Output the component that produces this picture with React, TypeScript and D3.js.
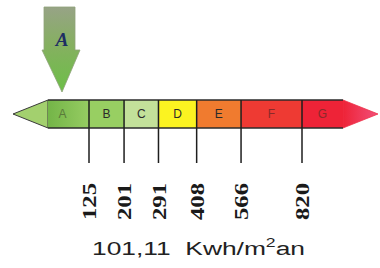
import * as d3 from "d3";

// energy classes and their upper limits (kWh/m²·an)
const classes = ["A", "B", "C", "D", "E", "F", "G"];
const limits = [125, 201, 291, 408, 566, 820];
const classColors = ["#8fc85c", "#98cf62", "#c3e19a", "#fbf321", "#f07b2f", "#ee3a33", "#ee2337"];
const currentClass = "A";
const currentValue = "101,11";

const W = 380;
const H = 268;

export default function App() {
  // boundaries between classes are not equally spaced — a power scale fits the sheet
  const x = d3.scalePow().exponent(0.55).domain([limits[0], limits[limits.length - 1]]).range([89, 302]);

  const barTop = 100;
  const barBot = 128;
  const barMid = (barTop + barBot) / 2;
  const bodyLeft = 48;
  const bodyRight = 343;
  const tipLeft = 13;
  const tipRight = 378;

  const edges = [bodyLeft, ...limits.map((v) => x(v)), bodyRight];
  const segs = classes.map((c, i) => ({ c, x0: edges[i], x1: edges[i + 1], color: classColors[i] }));

  const leftTip = d3.path();
  leftTip.moveTo(bodyLeft, barTop);
  leftTip.lineTo(tipLeft, barMid);
  leftTip.lineTo(bodyLeft, barBot);
  leftTip.closePath();

  const rightTip = d3.path();
  rightTip.moveTo(bodyRight, barTop);
  rightTip.lineTo(tipRight, barMid);
  rightTip.lineTo(bodyRight, barBot);
  rightTip.closePath();

  // pointer arrow above the current class
  const ai = classes.indexOf(currentClass);
  const ax = ai === 0 ? 61 : (segs[ai].x0 + segs[ai].x1) / 2;
  const arrow = d3.path();
  arrow.moveTo(ax - 17, 7);
  arrow.lineTo(ax + 14, 7);
  arrow.lineTo(ax + 14, 50);
  arrow.lineTo(ax + 19, 50);
  arrow.lineTo(ax + 1, 92);
  arrow.lineTo(ax - 19, 50);
  arrow.lineTo(ax - 17, 50);
  arrow.closePath();

  const letterX = (i: number) => (i === 0 ? (bodyLeft + segs[0].x1) / 2 - 6 : (segs[i].x0 + segs[i].x1) / 2);

  return (
    <svg width={W} height={H} style={{ position: "absolute", left: 0, top: 0, background: "#fff" }}>
      <defs>
        <linearGradient id="arrowGrad" x1="0" y1="0" x2="0" y2="1">
          <stop offset="0" stopColor="#97a386" />
          <stop offset="0.45" stopColor="#85b060" />
          <stop offset="1" stopColor="#6cbf47" />
        </linearGradient>
        <linearGradient id="aGrad" x1="0" y1="0" x2="1" y2="0">
          <stop offset="0" stopColor="#74b548" />
          <stop offset="1" stopColor="#96cc62" />
        </linearGradient>
        <linearGradient id="gGrad" x1="0" y1="0" x2="1" y2="0">
          <stop offset="0" stopColor="#ee2337" />
          <stop offset="1" stopColor="#f1507a" />
        </linearGradient>
      </defs>

      <path d={arrow.toString()} fill="url(#arrowGrad)" stroke="#8fa27a" strokeWidth={0.8} />
      <text
        x={ax + 1}
        y={46}
        textAnchor="middle"
        fontFamily="Liberation Serif, serif"
        fontStyle="italic"
        fontWeight="bold"
        fontSize={19}
        fill="#1d2d63"
      >
        {currentClass}
      </text>

      <path d={leftTip.toString()} fill="#a3d06e" stroke="#3a3a3a" strokeWidth={1} />
      <path d={rightTip.toString()} fill="url(#gGrad)" stroke="#ee3048" strokeWidth={0.8} />

      {segs.map((s, i) => (
        <rect
          key={s.c}
          x={s.x0}
          y={barTop}
          width={s.x1 - s.x0}
          height={barBot - barTop}
          fill={i === 0 ? "url(#aGrad)" : s.color}
        />
      ))}
      <line x1={bodyLeft} x2={bodyRight} y1={barTop} y2={barTop} stroke="#2b2b2b" strokeWidth={1.5} />
      <line x1={bodyLeft} x2={bodyRight} y1={barBot} y2={barBot} stroke="#2b2b2b" strokeWidth={1.5} />

      {segs.map((s, i) => (
        <text
          key={s.c}
          x={letterX(i)}
          y={barMid}
          dy="0.36em"
          textAnchor="middle"
          fontFamily="Liberation Sans, Arial, sans-serif"
          fontSize={12}
          fill={i === 0 ? "#5a7a3a" : i >= 5 ? "#8a2a2a" : "#2a2a2a"}
        >
          {s.c}
        </text>
      ))}

      {limits.map((v) => (
        <g key={v}>
          <line x1={x(v)} x2={x(v)} y1={barTop} y2={163} stroke="#1e1e1e" strokeWidth={1.5} />
          <text
            transform={`translate(${x(v) + 1},220) rotate(-90)`}
            dy="0.35em"
            textAnchor="start"
            fontFamily="Liberation Serif, serif"
            fontWeight="bold"
            fontSize={18}
            textLength={37}
            lengthAdjust="spacingAndGlyphs"
            fill="#1a1a1a"
          >
            {v}
          </text>
        </g>
      ))}

      <text
        x={92}
        y={255}
        textAnchor="start"
        fontFamily="Liberation Sans, Arial, sans-serif"
        fontSize={18}
        fill="#222"
        textLength={213}
        lengthAdjust="spacingAndGlyphs"
      >
        {currentValue}
        {"\u00a0\u00a0Kwh/m"}
        <tspan fontSize={12} dy={-8}>
          2
        </tspan>
        <tspan dy={8}>an</tspan>
      </text>
    </svg>
  );
}
